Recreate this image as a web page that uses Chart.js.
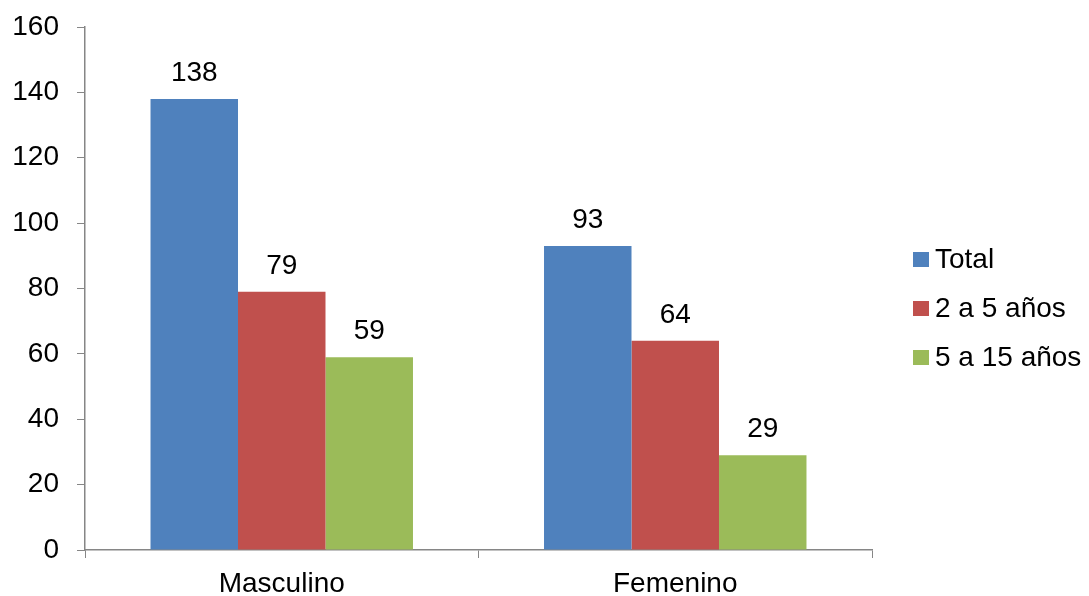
<!DOCTYPE html>
<html>
<head>
<meta charset="utf-8">
<script src="https://cdn.jsdelivr.net/npm/chart.js@4.4.0/dist/chart.umd.min.js"></script>
<style>
  html, body { margin: 0; padding: 0; background: #fff; }
  #wrap { width: 1089px; height: 596px; }
</style>
</head>
<body>
<div id="wrap"><canvas id="c" width="1089" height="596"></canvas></div>
<script>
const categories = ['Masculino', 'Femenino'];
const seriesNames = ['Total', '2 a 5 años', '5 a 15 años'];
const totalValues = [138, 93];
const age2to5Values = [79, 64];
const age5to15Values = [59, 29];
const yTicks = [0, 20, 40, 60, 80, 100, 120, 140, 160];

const FONT = "'Liberation Sans', Arial, sans-serif";
const FONT_SIZE = 28;
const axisGray = '#868686';

// Value labels drawn above each bar
const valueLabels = {
  id: 'valueLabels',
  afterDatasetsDraw(chart) {
    const ctx = chart.ctx;
    ctx.save();
    ctx.font = FONT_SIZE + 'px ' + FONT;
    ctx.fillStyle = '#000';
    ctx.textAlign = 'center';
    ctx.textBaseline = 'alphabetic';
    chart.data.datasets.forEach((ds, i) => {
      chart.getDatasetMeta(i).data.forEach((bar, j) => {
        ctx.fillText(String(ds.data[j]), bar.x, bar.y - 18);
      });
    });
    ctx.restore();
  }
};

// Legend on the right: square swatch followed by the series name
const sideLegend = {
  id: 'sideLegend',
  afterDraw(chart) {
    const ctx = chart.ctx;
    const area = chart.chartArea;
    const boxX = area.right + 41;
    const startY = 259;
    const step = 49;
    ctx.save();
    ctx.font = FONT_SIZE + 'px ' + FONT;
    ctx.textBaseline = 'middle';
    ctx.textAlign = 'left';
    chart.data.datasets.forEach((ds, i) => {
      const cy = startY + i * step;
      ctx.fillStyle = ds.backgroundColor;
      ctx.fillRect(boxX, cy - 7, 16, 15);
      ctx.fillStyle = '#000';
      ctx.fillText(ds.label, boxX + 22, cy + 1);
    });
    ctx.restore();
  }
};

new Chart(document.getElementById('c'), {
  type: 'bar',
  data: {
    labels: categories,
    datasets: [
      { label: seriesNames[0], data: totalValues, backgroundColor: '#4F81BD' },
      { label: seriesNames[1], data: age2to5Values, backgroundColor: '#C0504D' },
      { label: seriesNames[2], data: age5to15Values, backgroundColor: '#9BBB59' }
    ]
  },
  options: {
    responsive: false,
    animation: false,
    layout: { padding: { top: 27, left: 12, right: 217, bottom: 0 } },
    datasets: { bar: { categoryPercentage: 0.667, barPercentage: 1.0, borderWidth: 0 } },
    plugins: {
      tooltip: { enabled: false },
      legend: { display: false }
    },
    scales: {
      x: {
        afterFit(scale) { scale.height = 46; scale.paddingLeft = 0; scale.paddingRight = 0; },
        grid: { display: true, drawOnChartArea: false, drawTicks: true, tickLength: 8, color: axisGray, offset: true },
        border: { color: axisGray, width: 1.5 },
        ticks: { font: { family: FONT, size: FONT_SIZE, lineHeight: 1.0 }, color: '#000', padding: 12 }
      },
      y: {
        min: 0, max: 160,
        afterFit(scale) { scale.width = 73; scale.paddingTop = 0; scale.paddingBottom = 0; },
        afterBuildTicks(scale) { scale.ticks = yTicks.map(v => ({ value: v })); },
        grid: { display: true, drawOnChartArea: false, drawTicks: true, tickLength: 8, color: axisGray },
        border: { color: axisGray, width: 1.5 },
        ticks: { font: { family: FONT, size: FONT_SIZE }, color: '#000', padding: 18 }
      }
    }
  },
  plugins: [valueLabels, sideLegend]
});
</script>
</body>
</html>
